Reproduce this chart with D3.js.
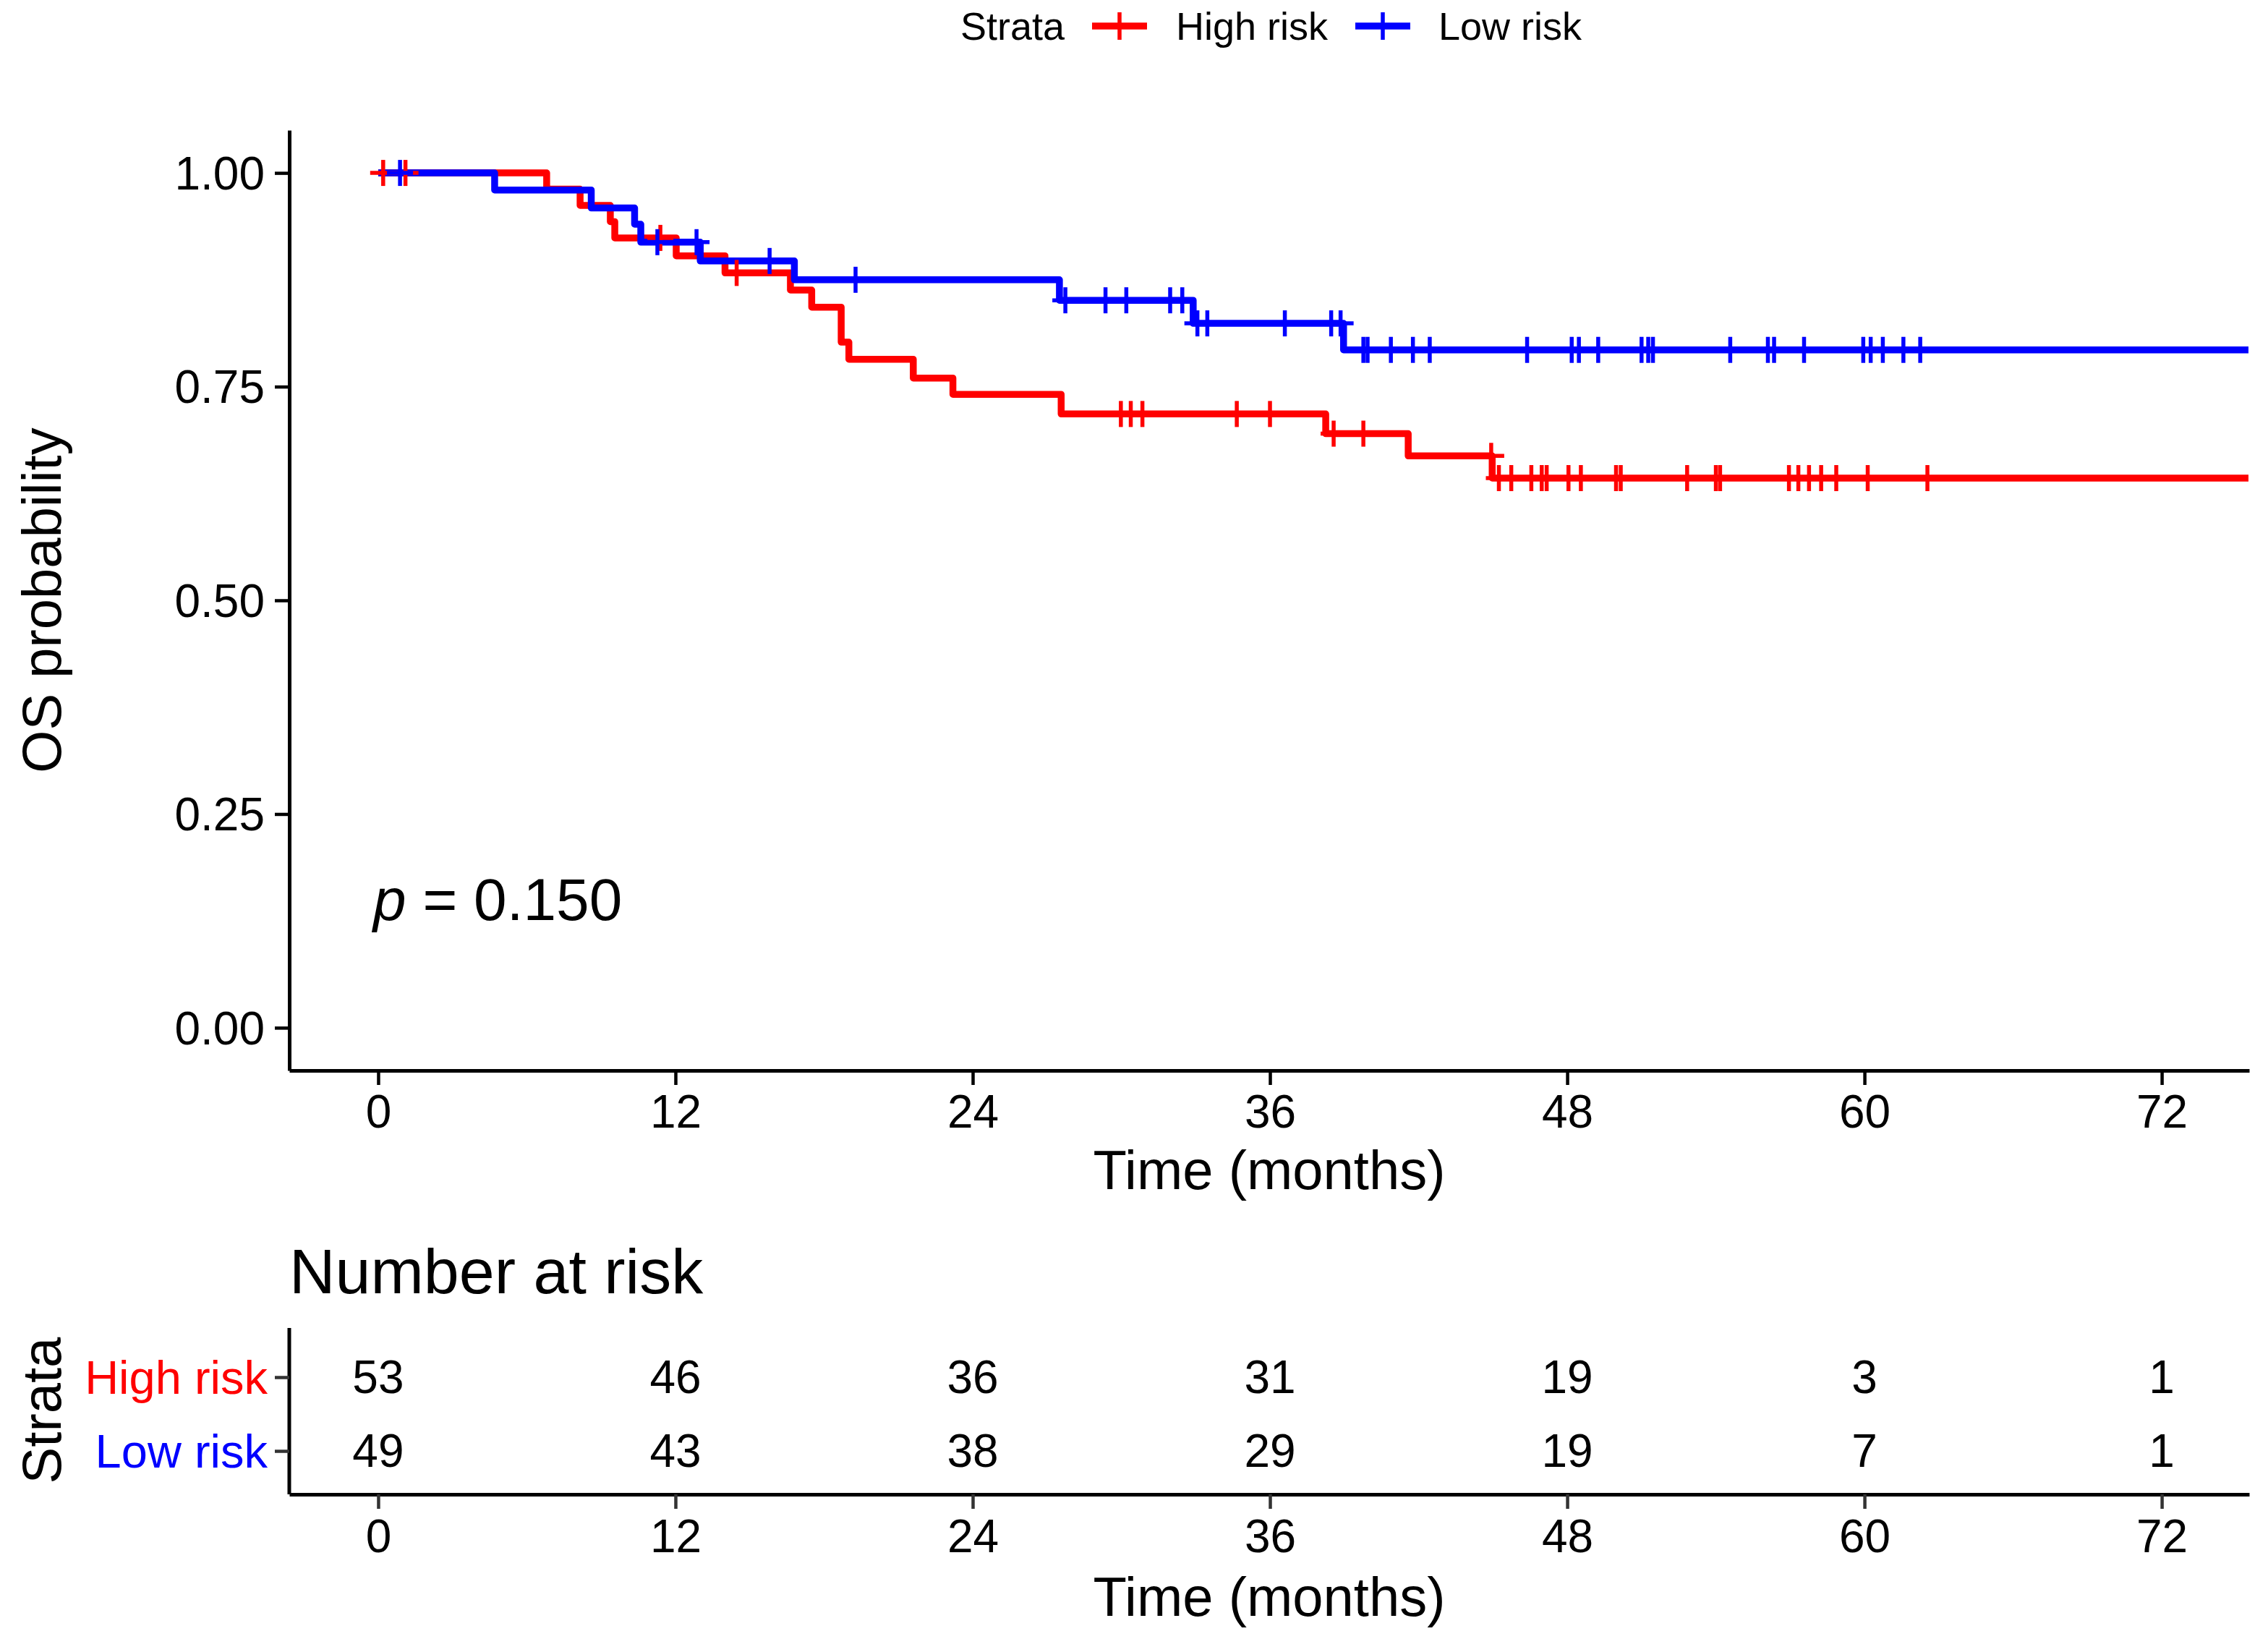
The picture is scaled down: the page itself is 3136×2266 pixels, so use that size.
<!DOCTYPE html>
<html><head><meta charset="utf-8">
<script src="https://cdn.jsdelivr.net/npm/d3@7"></script>
<style>body{margin:0;background:#fff;} svg{display:block;} text{font-family:"Liberation Sans",Arial,sans-serif;}</style>
</head><body>
<svg id="c" width="3136" height="2266"></svg>
<script>
// ---- data ----
const strata = ["High risk", "Low risk"];
const colors = ["#FF0000", "#0000FF"];
const highTimes = [0, 6.8, 8.15, 9.37, 9.55, 12.03, 14.0, 16.64, 17.5, 18.69, 19.0, 21.6, 23.2, 27.57, 38.25, 41.58, 44.97];
const highSurv  = [1.0, 0.981, 0.962, 0.943, 0.924, 0.903, 0.883, 0.863, 0.843, 0.802, 0.782, 0.760, 0.741, 0.718, 0.695, 0.669, 0.643];
const highCensor = [0.2, 1.1, 11.39, 14.47, 29.98, 30.38, 30.85, 34.66, 36.0, 38.57, 39.77, 44.93, 45.24, 45.74, 46.55, 46.97, 47.17, 48.05, 48.55, 49.97, 50.16, 52.84, 54.0, 54.17, 56.95, 57.33, 57.76, 58.25, 58.86, 60.13, 62.54];
const lowTimes = [0, 4.7, 8.6, 10.35, 10.6, 13.0, 16.8, 27.5, 32.9, 38.97];
const lowSurv  = [1.0, 0.980, 0.959, 0.940, 0.919, 0.897, 0.875, 0.851, 0.824, 0.793];
const lowCensor = [0.88, 11.27, 12.85, 15.8, 19.27, 27.74, 29.36, 30.2, 31.97, 32.46, 33.07, 33.47, 36.6, 38.47, 38.85, 39.77, 39.94, 40.88, 41.77, 42.45, 46.38, 48.18, 48.47, 49.25, 51.0, 51.27, 51.46, 54.58, 56.1, 56.35, 57.56, 59.95, 60.25, 60.74, 61.57, 62.25];
const maxTime = 75.5;
const xTicks = [0, 12, 24, 36, 48, 60, 72];
const yTicks = [0, 0.25, 0.5, 0.75, 1.0];
const riskHigh = [53, 46, 36, 31, 19, 3, 1];
const riskLow  = [49, 43, 38, 29, 19, 7, 1];
const pText = "0.150";

// ---- layout ----
const svg = d3.select("#c");
const FONT = '"Liberation Sans",Arial,sans-serif';
const L = 400, R = 3110, T = 180, B = 1480;
const x = d3.scaleLinear().domain([-3.59, 75.53]).range([L, R]);
const y = d3.scaleLinear().domain([-0.05, 1.05]).range([B, T]);

const series = [
  {name: strata[0], color: colors[0], times: highTimes, surv: highSurv, cens: highCensor},
  {name: strata[1], color: colors[1], times: lowTimes, surv: lowSurv, cens: lowCensor}
];
function survAt(s, t) {
  let v = s.surv[0];
  for (let i = 0; i < s.times.length; i++) if (s.times[i] <= t) v = s.surv[i];
  return v;
}

// curves
const line = d3.line().x(d => x(d[0])).y(d => y(d[1])).curve(d3.curveStepAfter);
series.forEach(s => {
  const pts = s.times.map((t, i) => [t, s.surv[i]]);
  pts.push([maxTime, s.surv[s.surv.length - 1]]);
  svg.append("path").attr("d", line(pts)).attr("fill", "none")
    .attr("stroke", s.color).attr("stroke-width", 9.5).attr("stroke-linejoin", "round");
});
// censor marks
const cs = 18;
series.forEach(s => {
  const g = svg.append("g").attr("stroke", s.color).attr("stroke-width", 5.5);
  s.cens.forEach(t => {
    const cx = x(t), cy = y(survAt(s, t));
    g.append("line").attr("x1", cx - cs).attr("x2", cx + cs).attr("y1", cy).attr("y2", cy);
    g.append("line").attr("x1", cx).attr("x2", cx).attr("y1", cy - cs).attr("y2", cy + cs);
  });
});

function styleAxis(g, fs) {
  g.select(".domain").attr("stroke", "#000").attr("stroke-width", 5);
  g.selectAll(".tick line").attr("stroke", "#000").attr("stroke-width", 4.5);
  g.selectAll(".tick text").attr("font-size", fs).attr("fill", "#000").attr("font-family", FONT);
}
// axes main
const gy = svg.append("g").attr("transform", `translate(${L},0)`)
  .call(d3.axisLeft(y).tickValues(yTicks).tickFormat(d3.format(".2f")).tickSize(20).tickPadding(14).tickSizeOuter(0));
styleAxis(gy, 64);
gy.selectAll(".tick text").attr("dy", "0.35em");
const gx = svg.append("g").attr("transform", `translate(0,${B})`)
  .call(d3.axisBottom(x).tickValues(xTicks).tickFormat(d3.format("d")).tickSize(20).tickPadding(14).tickSizeOuter(0));
styleAxis(gx, 64);

svg.append("text").attr("x", (L + R) / 2).attr("y", 1644).attr("text-anchor", "middle")
  .attr("font-size", 76).text("Time (months)");
svg.append("text").attr("transform", "translate(84,830) rotate(-90)").attr("text-anchor", "middle")
  .attr("font-size", 76).text("OS probability");

// p value
const pt = svg.append("text").attr("x", 516).attr("y", 1272).attr("font-size", 82);
pt.append("tspan").attr("font-style", "italic").text("p");
pt.append("tspan").text(" = " + pText);

// legend
const ly = 36;
const lg = svg.append("g").attr("font-size", 54);
lg.append("text").attr("x", 1328).attr("y", ly).attr("dy", "0.35em").text("Strata");
const legendItems = [
  {x0: 1510, x1: 1586, tx: 1626},
  {x0: 1874, x1: 1950, tx: 1989}
];
series.forEach((s, i) => {
  const it = legendItems[i];
  lg.append("line").attr("x1", it.x0).attr("x2", it.x1).attr("y1", ly).attr("y2", ly)
    .attr("stroke", s.color).attr("stroke-width", 9.5);
  const mx = (it.x0 + it.x1) / 2;
  lg.append("line").attr("x1", mx).attr("x2", mx).attr("y1", ly - 19).attr("y2", ly + 19)
    .attr("stroke", s.color).attr("stroke-width", 5.5);
  lg.append("text").attr("x", it.tx).attr("y", ly).attr("dy", "0.35em").text(s.name);
});

// ---- risk table ----
const TT = 1836, TB = 2066;
svg.append("text").attr("x", 400).attr("y", 1788).attr("font-size", 88).text("Number at risk");
const yr = d3.scalePoint().domain(strata).range([1904, 2006]);
const gty = svg.append("g").attr("transform", `translate(${L},0)`)
  .call(d3.axisLeft(yr).tickSize(20).tickPadding(10).tickSizeOuter(0));
gty.select(".domain").attr("d", `M0,${TT}V${TB}`).attr("stroke", "#000").attr("stroke-width", 5);
gty.selectAll(".tick line").attr("stroke", "#333").attr("stroke-width", 4.5);
gty.selectAll(".tick text").attr("font-size", 65).attr("font-family", FONT).attr("dy", "0.35em")
  .attr("fill", d => colors[strata.indexOf(d)]);
const gtx = svg.append("g").attr("transform", `translate(0,${TB})`)
  .call(d3.axisBottom(x).tickValues(xTicks).tickFormat(d3.format("d")).tickSize(20).tickPadding(15).tickSizeOuter(0));
styleAxis(gtx, 64);
gtx.selectAll(".tick line").attr("stroke", "#333");

[riskHigh, riskLow].forEach((arr, i) => {
  svg.append("g").selectAll("text").data(arr).join("text")
    .attr("x", (d, j) => x(xTicks[j])).attr("y", yr(strata[i])).attr("dy", "0.35em")
    .attr("text-anchor", "middle").attr("font-size", 64).text(d => d);
});
svg.append("text").attr("x", (L + R) / 2).attr("y", 2234).attr("text-anchor", "middle")
  .attr("font-size", 76).text("Time (months)");
svg.append("text").attr("transform", "translate(84,1950) rotate(-90)").attr("text-anchor", "middle")
  .attr("font-size", 76).text("Strata");
</script>
</body></html>
